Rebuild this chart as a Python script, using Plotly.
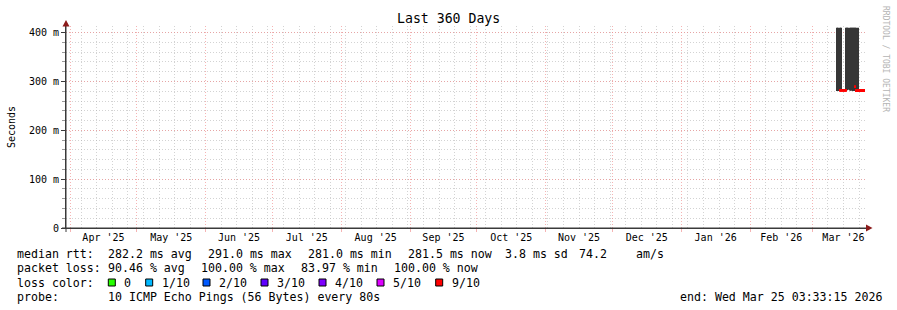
import plotly.graph_objects as go
import pandas as pd

# ---------------- data ----------------
title_text = "Last 360 Days"
range_start = "2025-03-30 03:33:15"
range_end = "2026-03-25 03:33:15"

# 12-hour bins near the end of the period (only region with data)
bin_start = [
    "2026-03-12 00:00", "2026-03-12 12:00", "2026-03-13 00:00", "2026-03-13 12:00",
    "2026-03-14 00:00", "2026-03-14 12:00", "2026-03-15 00:00", "2026-03-15 12:00",
    "2026-03-16 00:00", "2026-03-16 12:00", "2026-03-17 00:00", "2026-03-17 12:00",
    "2026-03-18 00:00", "2026-03-18 12:00", "2026-03-19 00:00", "2026-03-19 12:00",
    "2026-03-20 00:00", "2026-03-20 12:00", "2026-03-21 00:00", "2026-03-21 12:00",
    "2026-03-22 00:00", "2026-03-22 12:00", "2026-03-23 00:00", "2026-03-23 12:00",
    "2026-03-24 00:00", "2026-03-24 12:00",
]
# smoke (ping spread) in seconds
smoke_lo = [0.2806, 0.2806, 0.2806, 0.2806, None, None, None, None,
            0.2808, 0.2820, 0.2830, 0.2815, 0.2812, 0.2825, 0.2808, 0.2812,
            0.2808, 0.2810, None, 0.2810, None, None, None, None, None, None]
smoke_hi = [0.410, 0.410, 0.410, 0.410, None, None, None, None,
            0.410, 0.410, 0.410, 0.410, 0.410, 0.410, 0.410, 0.410,
            0.410, 0.410, None, 0.410, None, None, None, None, None, None]
# median rtt in seconds (9/10 loss colour)
median = [None, None, 0.2819, 0.2819, 0.2819, 0.2819, 0.2819, 0.2819,
          0.2819, None, None, None, None, None, None, None,
          0.2896, 0.2816, 0.2816, 0.2816, 0.2816, 0.2816, 0.2816, 0.2816,
          0.2816, None]

y_tickvals = [0, 0.1, 0.2, 0.3, 0.4]
y_ticktext = ["0", "100 m", "200 m", "300 m", "400 m"]

legend_rows = [
    [("median rtt:", 16), ("282.2 ms avg", 107), ("291.0 ms max", 207), ("281.0 ms min", 307),
     ("281.5 ms now", 407), ("3.8 ms sd", 504), ("74.2", 578), ("am/s", 635)],
    [("packet loss:", 16), ("90.46 % avg", 107), ("100.00 % max", 200), ("83.97 % min", 300),
     ("100.00 % now", 393)],
    [("loss color:", 16), ("0", 123), ("1/10", 160.7), ("2/10", 218.3), ("3/10", 276),
     ("4/10", 334), ("5/10", 392.3), ("9/10", 450.7)],
    [("probe:", 16), ("10 ICMP Echo Pings (56 Bytes) every 80s", 107),
     ("end: Wed Mar 25 03:33:15 2026", 679)],
]
legend_y = [254.3, 268.3, 282.7, 296.7]
loss_colors = ["#26ff00", "#00b8ff", "#0059ff", "#5e00ff", "#7e00ff", "#dd00ff", "#ff0000"]
loss_box_x = [108.3, 145.7, 203, 261, 319, 377, 435.7]

# ---------------- geometry ----------------
W, H = 897, 310
L, R, T, B = 66, 31, 26, 82
PW, PH = W - L - R, H - T - B
Y_MAX = 0.4137

def px(x):
    return (x - L) / PW

def py(y):
    return (H - B - y) / PH

MONO = "DejaVu Sans Mono"
SMOKE = "#363636"
RED = "#ff0000"
MGRID = "rgba(240,140,140,0.65)"
GRID = "rgba(175,175,175,0.55)"
AXIS = "#3a3a3a"
ARROW = "#8b1a1a"
DASH = "1px,2px"

bins = pd.to_datetime(bin_start)
centers = bins + pd.Timedelta(hours=6)
bw = 12 * 3600 * 1000
thick = 0.0058

fig = go.Figure()
fig.add_trace(go.Bar(
    x=centers,
    y=[(h - l) if (h is not None and l is not None) else None for l, h in zip(smoke_lo, smoke_hi)],
    base=[l if l is not None else 0 for l in smoke_lo],
    width=bw, marker=dict(color=SMOKE, line=dict(width=0)),
    hoverinfo="skip", showlegend=False,
))
fig.add_trace(go.Bar(
    x=centers,
    y=[thick if m is not None else None for m in median],
    base=[(m - thick / 2) if m is not None else 0 for m in median],
    width=bw, marker=dict(color=RED, line=dict(width=0)),
    hoverinfo="skip", showlegend=False,
))

fig.update_layout(
    width=W, height=H,
    margin=dict(l=L, r=R, t=T, b=B, pad=0),
    paper_bgcolor="white", plot_bgcolor="white",
    barmode="overlay",
    showlegend=False,
    font=dict(family=MONO, size=10, color="#000000"),
    xaxis=dict(
        type="date", range=[range_start, range_end],
        tick0="2025-04-01", dtick="M1", ticklabelmode="period",
        tickformat="%b '%y", tickfont=dict(family=MONO, size=10, color="#000000"),
        ticks="outside", ticklen=3, tickcolor=MGRID, ticklabelstandoff=-3,
        showgrid=True, gridcolor=MGRID, griddash=DASH, gridwidth=1,
        minor=dict(dtick=7 * 86400000, tick0="2025-04-06", showgrid=True,
                   gridcolor=GRID, griddash=DASH, gridwidth=1, ticks=""),
        showline=True, linecolor=AXIS, linewidth=1,
        zeroline=False, fixedrange=True,
    ),
    yaxis=dict(
        range=[0, Y_MAX], tickvals=y_tickvals, ticktext=y_ticktext,
        tickfont=dict(family=MONO, size=10, color="#000000"),
        ticks="outside", ticklen=4, tickcolor=AXIS,
        showgrid=True, gridcolor=MGRID, griddash=DASH, gridwidth=1,
        minor=dict(dtick=0.02, tick0=0, showgrid=True, gridcolor=GRID,
                   griddash=DASH, gridwidth=1, ticks="outside", ticklen=3,
                   tickcolor="#999999"),
        showline=True, linecolor=AXIS, linewidth=1,
        zeroline=False, fixedrange=True,
    ),
)

ann = []
ann.append(dict(text=title_text, x=px(448), y=py(19), xref="paper", yref="paper",
                xanchor="center", yanchor="middle", showarrow=False,
                font=dict(family=MONO, size=13.2, color="black")))
ann.append(dict(text="Seconds", x=px(11), y=py(127), xref="paper", yref="paper",
                xanchor="center", yanchor="middle", showarrow=False, textangle=-90,
                font=dict(family=MONO, size=10, color="black")))
ann.append(dict(text="RRDTOOL / TOBI OETIKER", x=px(886), y=py(59), xref="paper", yref="paper",
                xanchor="center", yanchor="middle", showarrow=False, textangle=90,
                font=dict(family=MONO, size=8, color="#b4b4b4")))
for row, yy in zip(legend_rows, legend_y):
    for txt, xx in row:
        ann.append(dict(text=txt.replace(" ", "&nbsp;"), x=px(xx), y=py(yy), xref="paper", yref="paper",
                        xanchor="left", yanchor="middle", showarrow=False, borderpad=0,
                        font=dict(family=MONO, size=11.6, color="black")))
fig.update_layout(annotations=ann)

shapes = []
for c, bx in zip(loss_colors, loss_box_x):
    shapes.append(dict(type="rect", xref="paper", yref="paper",
                       x0=px(bx), x1=px(bx + 7), y0=py(279), y1=py(286),
                       fillcolor=c, line=dict(color="black", width=1)))
# axis extensions and arrows
shapes.append(dict(type="line", xref="paper", yref="paper", x0=px(62), x1=px(867),
                   y0=0, y1=0, line=dict(color=AXIS, width=1)))
shapes.append(dict(type="line", xref="paper", yref="paper", x0=0, x1=0,
                   y0=py(232), y1=py(24), line=dict(color=AXIS, width=1)))
shapes.append(dict(type="path", xref="paper", yref="paper",
                   path=f"M {px(866)} {py(224.5)} L {px(872.5)} {py(228)} L {px(866)} {py(231.5)} Z",
                   fillcolor=ARROW, line=dict(color=ARROW, width=0)))
shapes.append(dict(type="path", xref="paper", yref="paper",
                   path=f"M {px(62.5)} {py(26.5)} L {px(66)} {py(20)} L {px(69.5)} {py(26.5)} Z",
                   fillcolor=ARROW, line=dict(color=ARROW, width=0)))
fig.update_layout(shapes=shapes)

fig.write_html("out.html")
